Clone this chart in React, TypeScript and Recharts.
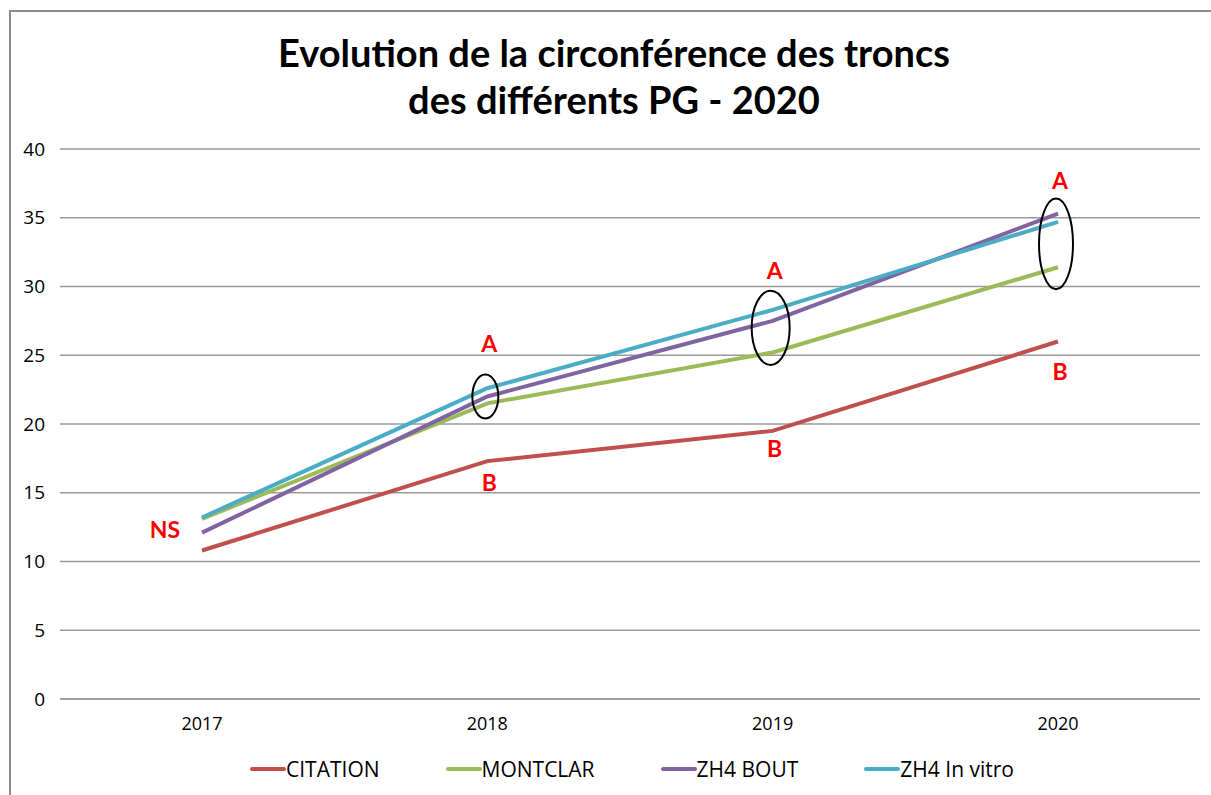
import { CartesianGrid, Line, LineChart, ReferenceDot, XAxis, YAxis } from "recharts";

const years = ["2017", "2018", "2019", "2020"];
const citation = [10.8, 17.3, 19.5, 26.0];
const montclar = [13.1, 21.5, 25.2, 31.4];
const zh4Bout = [12.1, 22.0, 27.5, 35.3];
const zh4InVitro = [13.2, 22.6, 28.3, 34.7];
const yTicks = [0, 5, 10, 15, 20, 25, 30, 35, 40];

// letters of the statistical test, placed in data units
const letterYears = ["2017", "2018", "2018", "2019", "2019", "2020", "2020"];
const letterValues = [12.3, 25.8, 15.7, 31.1, 18.2, 37.7, 23.8];
const letterTexts = ["NS", "A", "B", "A", "B", "A", "B"];

// circled groups: year, low and high values of the ellipse
const circleYears = ["2018", "2019", "2020"];
const circleLow = [20.4, 24.3, 29.8];
const circleHigh = [23.6, 29.7, 36.4];

const series = [
  { key: "CITATION", values: citation, color: "#C0504D" },
  { key: "MONTCLAR", values: montclar, color: "#9BBB59" },
  { key: "ZH4 BOUT", values: zh4Bout, color: "#8064A2" },
  { key: "ZH4 In vitro", values: zh4InVitro, color: "#4BACC6" },
];

const data = years.map((year, i) => {
  const row: Record<string, string | number> = { year };
  series.forEach((s) => (row[s.key] = s.values[i]));
  return row;
});

const W = 1211;
const H = 795;
const margin = { top: 149, right: 11, bottom: 66, left: 0 };
const pxPerUnit = (H - margin.top - margin.bottom - 30) / 40;
const ellipseWidths = [13, 19, 17];
const font = "'Open Sans', sans-serif";

export default function App() {
  return (
    <div style={{ position: "absolute", left: 0, top: 0, width: W, height: H, overflow: "hidden", background: "#fff" }}>
      <div
        style={{
          position: "absolute",
          left: 9,
          top: 10,
          width: W,
          height: H,
          borderLeft: "2px solid #8c8c8c",
          borderTop: "2px solid #8c8c8c",
        }}
      />
      <div
        style={{
          position: "absolute",
          left: 0,
          top: 29,
          width: 1228,
          textAlign: "center",
          fontFamily: "Lato, sans-serif",
          fontWeight: 700,
          fontSize: 38,
          lineHeight: "47px",
          color: "#000",
        }}
      >
        Evolution de la circonférence des troncs
        <br />
        des différents PG - 2020
      </div>
      <div style={{ position: "absolute", left: 0, top: 0 }}>
        <LineChart width={W} height={H} data={data} margin={margin}>
          <CartesianGrid vertical={false} stroke="#9a9a9a" strokeWidth={1.5} />
          <XAxis
            dataKey="year"
            padding={{ left: 142, right: 142 }}
            height={30}
            tickSize={0}
            tickMargin={18}
            axisLine={{ stroke: "#9a9a9a", strokeWidth: 1.5 }}
            tick={{ fill: "#000", fontSize: 18, fontFamily: font }}
          />
          <YAxis
            width={60}
            domain={[0, 40]}
            ticks={yTicks}
            tickSize={0}
            tickMargin={15}
            axisLine={false}
            tick={{ fill: "#000", fontSize: 19, fontFamily: font }}
          />
          {series.map((s) => (
            <Line
              key={s.key}
              type="linear"
              dataKey={s.key}
              stroke={s.color}
              strokeWidth={4}
              dot={false}
              activeDot={false}
              isAnimationActive={false}
            />
          ))}
          {circleYears.map((y, i) => (
            <ReferenceDot
              key={"c" + i}
              x={y}
              y={(circleLow[i] + circleHigh[i]) / 2}
              r={1}
              shape={(p: any) => (
                <ellipse
                  cx={p.cx - 2}
                  cy={p.cy}
                  rx={ellipseWidths[i]}
                  ry={((circleHigh[i] - circleLow[i]) / 2) * pxPerUnit}
                  fill="none"
                  stroke="#000"
                  strokeWidth={2}
                />
              )}
            />
          ))}
          {letterYears.map((y, i) => (
            <ReferenceDot
              key={"l" + i}
              x={y}
              y={letterValues[i]}
              r={1}
              shape={(p: any) => (
                <text
                  x={letterTexts[i] === "NS" ? p.cx - 22 : p.cx + 2}
                  y={p.cy}
                  dy="0.35em"
                  textAnchor={letterTexts[i] === "NS" ? "end" : "middle"}
                  fill="#FF0000"
                  fontFamily="Lato, sans-serif"
                  fontWeight={700}
                  fontSize={23}
                >
                  {letterTexts[i]}
                </text>
              )}
            />
          ))}
        </LineChart>
      </div>
      <div
        style={{
          position: "absolute",
          left: 0,
          top: 755,
          width: 1264,
          display: "flex",
          justifyContent: "center",
          gap: 66,
          fontFamily: font,
          fontSize: 21,
          color: "#000",
        }}
      >
        {series.map((s) => (
          <div key={s.key} style={{ display: "flex", alignItems: "center" }}>
            <span style={{ display: "inline-block", width: 36, height: 4, borderRadius: 2, background: s.color }} />
            <span>{s.key}</span>
          </div>
        ))}
      </div>
    </div>
  );
}
